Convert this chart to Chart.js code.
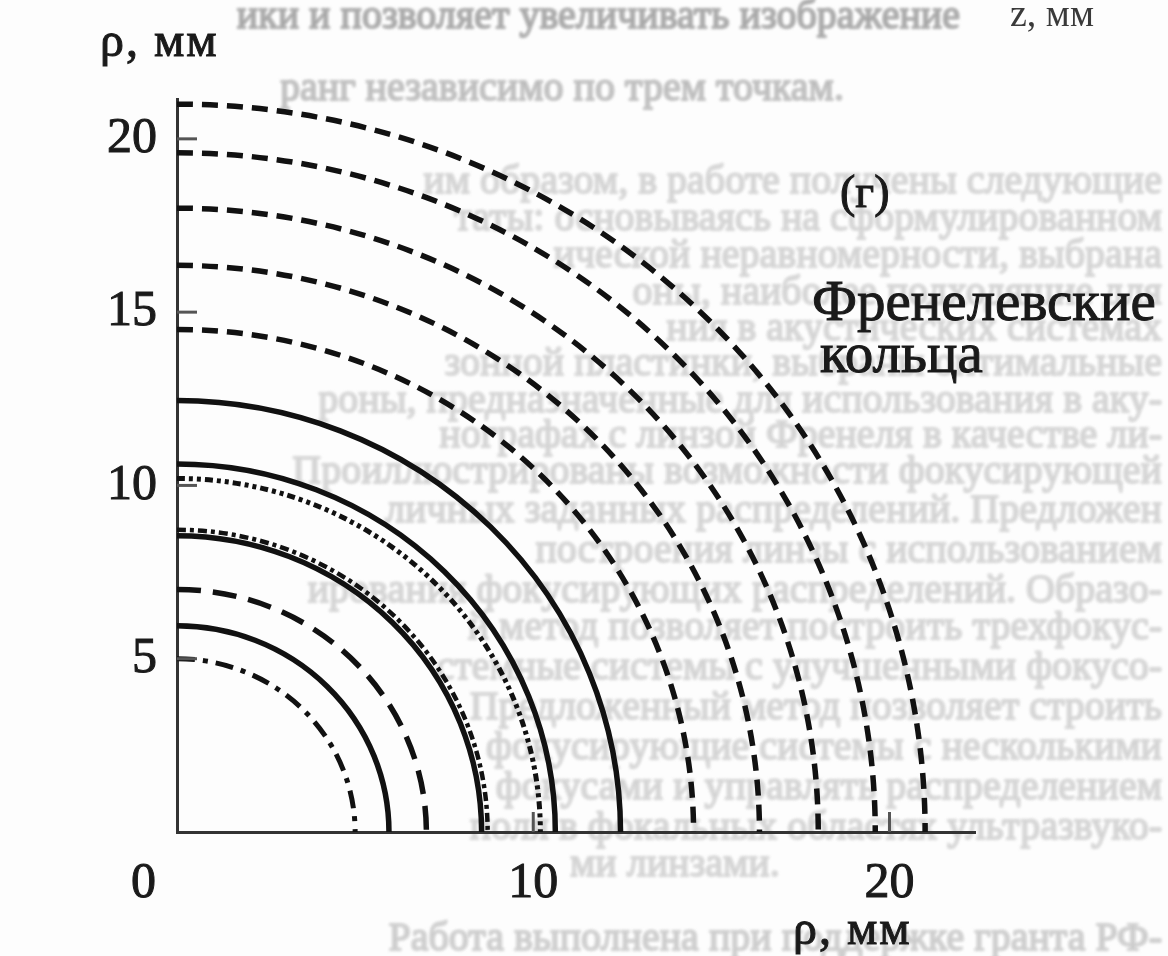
<!DOCTYPE html>
<html>
<head>
<meta charset="utf-8">
<script src="https://cdn.jsdelivr.net/npm/chart.js@4.4.1/dist/chart.umd.min.js"></script>
<style>
html,body{margin:0;padding:0;background:#fdfdfd;}
#wrap{width:1168px;height:956px;}
</style>
</head>
<body>
<div id="wrap"><canvas id="chart" width="1168" height="956"></canvas></div>
<script>
// ring radii (mm), inner to outer
const ringRadii = [5.0, 5.95, 7.0, 8.55, 8.72, 10.2, 10.62, 12.45, 14.5, 16.35, 18.0, 19.6, 21.0];
const ringKinds = ["dashdot","solid","longdash","solid","finedot","dashdotdot","solid","solid","dash","dash","dash","dash","dash"];
const xTicks = [10, 20];
const yTicks = [5, 10, 15, 20];

const dashStyles = {
    solid:      {dash: [],                   width: 5.5},
    dashdot:    {dash: [18, 8, 5, 8],        width: 5},
    longdash:   {dash: [24, 12],             width: 5.5},
    finedot:    {dash: [9, 4, 4, 4],         width: 4.5},
    dashdotdot: {dash: [8, 4, 4, 4, 4, 4],   width: 5},
    dash:       {dash: [16, 9],              width: 5.5}
};

const serif = '"Liberation Serif","DejaVu Serif",serif';

// faint page text showing through the scan
const pageLines = [
    [28,  "ики и позволяет увеличивать изображение", 960, "right", "#a0a0a0"],
    [100, "ранг независимо по трем точкам.", 280, "left", "#b8b8b8"],
    [193, "им образом, в работе получены следующие", 1162, "right", "#d0d0d0"],
    [230, "таты: основываясь на сформулированном", 1162, "right", "#d0d0d0"],
    [267, "ической неравномерности, выбрана", 1162, "right", "#d0d0d0"],
    [304, "оны, наиболее подходящие для", 1162, "right", "#d0d0d0"],
    [340, "ния в акустических системах", 1162, "right", "#d0d0d0"],
    [375, "зонной пластинки, выбраны оптимальные", 1162, "right", "#d0d0d0"],
    [412, "роны, предназначенные для использования в аку-", 1162, "right", "#d0d0d0"],
    [447, "нографах с линзой Френеля в качестве ли-", 1162, "right", "#d0d0d0"],
    [483, "Проиллюстрированы возможности фокусирующей", 1162, "right", "#d0d0d0"],
    [522, "личных заданных распределений. Предложен", 1162, "right", "#d0d0d0"],
    [562, "построения линзы с использованием", 1162, "right", "#d0d0d0"],
    [602, "ирования фокусирующих распределений. Образо-", 1162, "right", "#d0d0d0"],
    [639, "й метод позволяет построить трехфокус-", 1162, "right", "#d0d0d0"],
    [679, "стемные системы с улучшенными фокусо-", 1162, "right", "#d0d0d0"],
    [719, "Предложенный метод позволяет строить", 1162, "right", "#d0d0d0"],
    [759, "фокусирующие системы с несколькими", 1162, "right", "#d0d0d0"],
    [799, "фокусами и управлять распределением", 1162, "right", "#d0d0d0"],
    [839, "поля в фокальных областях ультразвуко-", 1162, "right", "#d0d0d0"],
    [876, "ми линзами.", 570, "left", "#d0d0d0"],
    [950, "Работа выполнена при поддержке гранта РФ-", 1162, "right", "#c8c8c8"]
];

const backdrop = {
    id: "backdrop",
    beforeDraw(chart){
        const ctx = chart.ctx;
        ctx.save();
        ctx.fillStyle = "#fdfdfd";
        ctx.fillRect(0, 0, chart.width, chart.height);
        ctx.filter = "blur(1.6px)";
        ctx.font = "40px " + serif;
        ctx.textBaseline = "alphabetic";
        pageLines.forEach(([y, txt, x, align, col]) => {
            ctx.fillStyle = col;
            ctx.strokeStyle = col;
            ctx.lineWidth = 1;
            ctx.textAlign = align;
            ctx.fillText(txt, x, y);
            ctx.strokeText(txt, x, y);
        });
        ctx.filter = "none";
        ctx.fillStyle = "#3a3a3a";
        ctx.textAlign = "left";
        ctx.font = "38px " + serif;
        ctx.fillText("z, мм", 1010, 26);
        ctx.restore();
    }
};

function boldText(ctx, txt, x, y){
    ctx.fillText(txt, x, y);
    ctx.strokeText(txt, x, y);
}

const rings = {
    id: "rings",
    afterDatasetsDraw(chart){
        const ctx = chart.ctx, xs = chart.scales.x, ys = chart.scales.y;
        const cx = xs.getPixelForValue(0), cy = ys.getPixelForValue(0);
        ctx.save();
        ctx.lineCap = "butt";
        chart.data.datasets.forEach(ds => {
            const r = ds.data[0].x;
            const rx = xs.getPixelForValue(r) - cx;
            const ry = cy - ys.getPixelForValue(r);
            ctx.strokeStyle = ds.borderColor;
            ctx.lineWidth = ds.borderWidth;
            ctx.setLineDash(ds.borderDash);
            ctx.beginPath();
            ctx.ellipse(cx, cy, rx, ry, 0, -Math.PI/2, 0);
            ctx.stroke();
        });
        ctx.setLineDash([]);

        // inward tick marks
        ctx.strokeStyle = "#555";
        ctx.lineWidth = 3;
        const left = chart.chartArea.left, bottom = chart.chartArea.bottom;
        yTicks.forEach(v => {
            const py = ys.getPixelForValue(v);
            ctx.beginPath(); ctx.moveTo(left, py); ctx.lineTo(left + 20, py); ctx.stroke();
        });
        xTicks.forEach(v => {
            const px = xs.getPixelForValue(v);
            ctx.beginPath(); ctx.moveTo(px, bottom); ctx.lineTo(px, bottom - 20); ctx.stroke();
        });

        // labels
        ctx.fillStyle = "#1a1a1a";
        ctx.strokeStyle = "#1a1a1a";
        ctx.lineWidth = 1;
        ctx.textBaseline = "alphabetic";
        ctx.textAlign = "left";
        ctx.font = "50px " + serif;
        boldText(ctx, "0", 131, 897);
        ctx.font = "48px " + serif;
        ctx.letterSpacing = "2px";
        boldText(ctx, "ρ, мм", 100, 56);
        boldText(ctx, "ρ, мм", 793, 944);
        ctx.letterSpacing = "0px";
        ctx.font = "46px " + serif;
        boldText(ctx, "(г)", 840, 207);
        ctx.font = "57px " + serif;
        boldText(ctx, "Френелевские", 812, 320);
        boldText(ctx, "кольца", 820, 372);
        ctx.restore();
    }
};

const datasets = ringRadii.map((r, i) => {
    const st = dashStyles[ringKinds[i]];
    return {
        label: "ring " + r,
        data: [{x: r, y: 0}, {x: 0, y: r}],
        showLine: false,
        pointRadius: 0,
        borderColor: "#111",
        borderWidth: st.width,
        borderDash: st.dash
    };
});

new Chart(document.getElementById("chart"), {
    type: "scatter",
    data: {datasets},
    options: {
        responsive: false,
        animation: false,
        layout: {padding: {left: 0, top: 99, right: 193, bottom: 0}},
        plugins: {legend: {display: false}, tooltip: {enabled: false}},
        scales: {
            x: {
                type: "linear", min: 0, max: 22.4,
                grid: {display: false, drawTicks: false},
                border: {display: true, color: "#333", width: 3},
                afterBuildTicks: s => { s.ticks = xTicks.map(v => ({value: v})); },
                afterFit: s => { s.height = 124; },
                ticks: {color: "#1a1a1a", padding: 22, textStrokeColor: "#1a1a1a", textStrokeWidth: 1, font: {family: serif, size: 50}}
            },
            y: {
                type: "linear", min: 0, max: 21.15,
                grid: {display: false, drawTicks: false},
                border: {display: true, color: "#333", width: 3},
                afterBuildTicks: s => { s.ticks = yTicks.map(v => ({value: v})); },
                afterFit: s => { s.width = 177; },
                ticks: {color: "#1a1a1a", padding: 20, textStrokeColor: "#1a1a1a", textStrokeWidth: 1, font: {family: serif, size: 50}}
            }
        }
    },
    plugins: [backdrop, rings]
});
</script>
</body>
</html>
